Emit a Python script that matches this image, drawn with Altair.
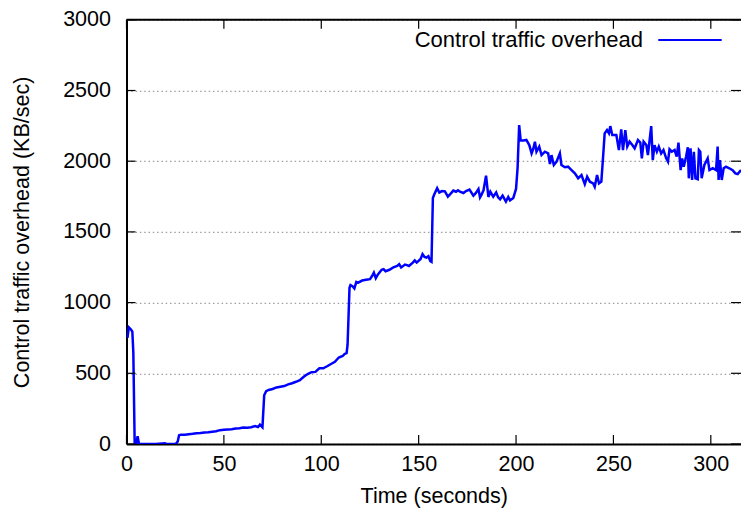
import altair as alt
import pandas as pd

# ---- data ----
time_s = [0.5, 1.2, 2.3, 3.0, 3.5, 4.2, 5.0, 5.7, 6.4, 10, 15, 19.8, 20.5, 25, 25.5, 26.3, 27.0,
          28, 30, 32, 34, 36, 38, 40, 42, 44, 46, 48, 50, 52, 54, 56, 58, 60, 62, 64, 66, 67.5, 68.5, 69.8,
          70.7, 71.7, 73, 75, 77, 79, 81, 83, 85, 87, 89, 91, 93, 95, 97, 99, 101, 103, 105, 107, 109, 111,
          112, 113, 113.5, 114.5, 115, 116, 117, 118, 119, 121, 123, 125, 126, 127, 128, 129, 131, 132, 133,
          135, 137, 139, 140, 141, 143, 144, 145, 147, 148, 149, 151, 152, 153, 154, 155, 156, 156.6,
          157.3, 158, 159.5, 160.6, 162, 163.5, 165, 166, 167.8, 169.2, 170.2, 171.2, 173, 174.3, 176.1,
          178.1, 179.3, 180.7, 181.5, 182.3, 183.3, 184.6, 185.8, 186.8, 188.3, 189.8, 190.8, 191.8, 193.1,
          194.8, 196, 196.9, 198.6, 200, 200.8, 201.6, 202.4, 203.8, 205.3, 206.8, 208, 208.8, 209.7, 210.5,
          211.9, 213.1, 214.8, 216.5, 217.4, 218.2, 219.4, 220.8, 222.5, 223.3, 225.1, 226.7, 228.5, 230.2,
          231.9, 233.6, 235.3, 236.5, 237.9, 239.6, 240.4, 241.6, 242.6, 243.8, 244.7, 245.5, 246.7, 247.7,
          248.4, 249.4, 251.5, 252.8, 254.0, 254.9, 256.1, 257.1, 258.3, 259.7, 260.9, 262.6, 263.8, 264.6,
          265.5, 266.9, 267.7, 268.6, 269.4, 270.2, 271.1, 272.3, 273.3, 274.5, 275.7, 277.1, 278.0, 278.8,
          280.0, 281.4, 282.5, 283.4, 284.5, 285.3, 286.1, 287.3, 288.2, 288.7, 289.6, 290.4, 291.3, 292.1,
          293.3, 293.9, 294.6, 295.3, 296.7, 298.4, 299.3, 301.0, 302.7, 303.5, 304.0, 304.7, 305.6, 306.6,
          307.8, 309.5, 311.2, 312.6, 313.8, 315.5]
overhead = [750, 825, 810, 795, 650, 0, 0, 55, 0, 0, 0, 5, 0, 0, 3, 18, 62,
            66, 66, 69, 72, 76, 78, 82, 83, 87, 90, 98, 101, 103, 105, 109, 111, 117, 115, 119, 127, 120, 137, 118,
            345, 373, 382, 389, 400, 405, 410, 422, 430, 440, 452, 475, 495, 508, 510, 535, 535, 550, 566, 581, 612, 622,
            637, 643, 700, 1105, 1124, 1116, 1100, 1146, 1141, 1156, 1161, 1166, 1186, 1212, 1172, 1197, 1232, 1237, 1222,
            1232, 1249, 1259, 1272, 1249, 1269, 1265, 1259, 1283, 1298, 1283, 1308, 1343, 1323, 1318, 1328, 1293, 1288,
            1740, 1764, 1809, 1779, 1789, 1787, 1749, 1764, 1792, 1784, 1794, 1784, 1775, 1789, 1799,
            1756, 1774, 1803, 1744, 1764, 1794, 1898, 1747, 1784, 1749, 1779, 1744, 1731, 1756,
            1714, 1747, 1723, 1740, 1804, 1955, 2256, 2146, 2146, 2150, 2114, 2055, 2085, 2138, 2067,
            2103, 2043, 2067, 2055, 1980, 2043, 1973, 1997, 2055, 1973, 1957, 1961, 1937, 1914,
            1879, 1902, 1838, 1890, 1855, 1843, 1819, 1902, 1843, 1855, 2032, 2197, 2220, 2197,
            2248, 2185, 2185, 2079, 2225, 2079, 2220, 2103, 2138, 2114, 2091, 2150, 2132, 2020,
            2138, 2114, 2043, 2150, 2248, 2008, 2114, 2067, 2103, 2055, 2079, 2020, 1997, 2084,
            2067, 2079, 2032, 2132, 1937, 2020, 1961, 2032, 2098, 1879, 2091, 1867, 2067, 1879,
            1873, 2079, 2067, 1879, 1973, 2020, 1937, 1950, 1937, 2103, 1867, 2008, 1867, 1950,
            1961, 1950, 1937, 1914, 1909, 1937]

x_ticks = [0, 50, 100, 150, 200, 250, 300]
y_ticks = [0, 500, 1000, 1500, 2000, 2500, 3000]
series_name = "Control traffic overhead"
x_title = "Time (seconds)"
y_title = "Control traffic overhead (KB/sec)"

FONT = "Liberation Sans"
FS = 21.5
W = 614.5
H = 424.2
TICK = 9

df = pd.DataFrame({"t": time_s, "v": overhead})
xt = pd.DataFrame({"t": x_ticks})
yt = pd.DataFrame({"v": y_ticks})
leg = pd.DataFrame({"label": [series_name]})

xscale = alt.Scale(domain=[0, 315.5], nice=False, zero=False)
yscale = alt.Scale(domain=[0, 3000], nice=False)

x_axis = alt.Axis(
    values=x_ticks, format="d", ticks=False, tickSize=0, grid=False, domain=True,
    domainColor="black", domainWidth=2, labelFont=FONT, labelFontSize=FS,
    labelColor="black", labelPadding=20, labelBaseline="middle", labelFlush=False,
    title=x_title, titleFont=FONT, titleFontSize=FS, titleFontWeight="normal",
    titleColor="black", titleX=W / 2, titleY=52, titleBaseline="middle", titleAlign="center")
y_axis = alt.Axis(
    values=y_ticks, format="d", ticks=False, tickSize=0, grid=True, gridColor="#888888",
    gridDash=[1.5, 2.8], gridWidth=1, domain=True, domainColor="black", domainWidth=2,
    labelFont=FONT, labelFontSize=FS, labelColor="black", labelPadding=16, labelFlush=False,
    title=y_title, titleFont=FONT, titleFontSize=FS, titleFontWeight="normal",
    titleColor="black", titleAngle=270, titleX=-104.5, titleY=H / 2,
    titleBaseline="middle", titleAlign="center")

line = alt.Chart(df).mark_line(color="#0000ff", strokeWidth=2.5, clip=True).encode(
    x=alt.X("t:Q", scale=xscale, axis=x_axis),
    y=alt.Y("v:Q", scale=yscale, axis=y_axis),
)

top_border = alt.Chart(leg).mark_rule(color="black", strokeWidth=2).encode(
    x=alt.value(0), x2=alt.value(W), y=alt.value(0))

xt_bottom = alt.Chart(xt).mark_rule(color="black", strokeWidth=1.2).encode(
    x=alt.X("t:Q", scale=xscale, axis=x_axis), y=alt.value(H - TICK), y2=alt.value(H))
xt_top = alt.Chart(xt).mark_rule(color="black", strokeWidth=1.2).encode(
    x=alt.X("t:Q", scale=xscale, axis=x_axis), y=alt.value(0), y2=alt.value(TICK))
yt_left = alt.Chart(yt).mark_rule(color="black", strokeWidth=1.2).encode(
    y=alt.Y("v:Q", scale=yscale, axis=y_axis), x=alt.value(0), x2=alt.value(TICK))
yt_right = alt.Chart(yt).mark_rule(color="black", strokeWidth=1.2).encode(
    y=alt.Y("v:Q", scale=yscale, axis=y_axis), x=alt.value(W - TICK - 1), x2=alt.value(W))

leg_text = alt.Chart(leg).mark_text(
    font=FONT, fontSize=22, color="black", align="right", baseline="alphabetic").encode(
    text="label:N", x=alt.value(516.5), y=alt.value(27.5))
leg_line = alt.Chart(leg).mark_rule(color="#0000ff", strokeWidth=2).encode(
    x=alt.value(531.8), x2=alt.value(595.2), y=alt.value(20.2))

chart = alt.layer(line, top_border, xt_bottom, xt_top, yt_left, yt_right, leg_text, leg_line).properties(
    width=W, height=H,
    autosize=alt.AutoSizeParams(type="none"),
    padding={"left": 126.5, "top": 19.8, "right": 0, "bottom": 69},
    background="white",
).configure_view(strokeWidth=0)

chart.save("out.html", embed_options={"renderer": "svg", "actions": False})
